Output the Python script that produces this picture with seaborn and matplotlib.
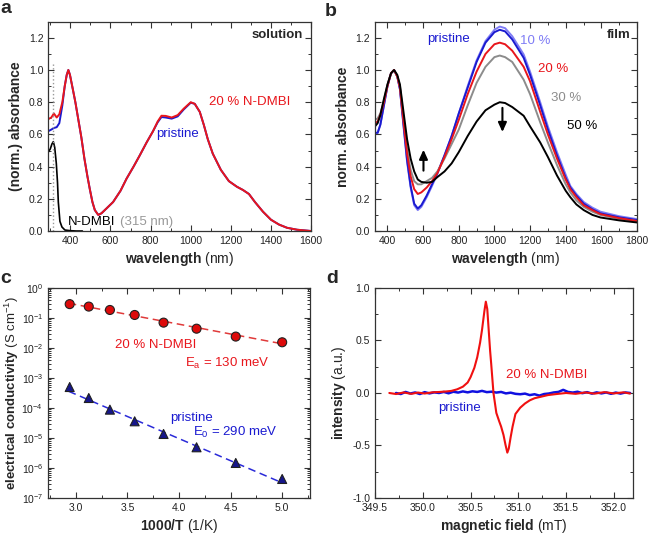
import numpy as np
import pandas as pd
import matplotlib
matplotlib.use("Agg")
import matplotlib.pyplot as plt
import seaborn as sns
from matplotlib.ticker import MultipleLocator, ScalarFormatter

# ---- panel a: solution absorbance ----
wl_a = [290, 305, 318, 332, 345, 360, 372, 382, 390, 398, 406, 414, 425, 440, 455, 470, 485,
        497, 510, 522, 539, 555, 580, 613, 650, 680, 715, 746, 780, 812, 835, 854, 875, 905,
        935, 965, 1000, 1020, 1045, 1065, 1085, 1110, 1150, 1190, 1230, 1260, 1290, 1320,
        1360, 1400, 1440, 1480, 1530, 1600]
abs_a_doped = [0.695, 0.705, 0.73, 0.705, 0.725, 0.80, 0.90, 0.97, 1.0, 0.97, 0.92, 0.87, 0.80,
               0.69, 0.58, 0.45, 0.34, 0.26, 0.18, 0.13, 0.10, 0.11, 0.14, 0.18, 0.25, 0.325,
               0.40, 0.47, 0.55, 0.62, 0.68, 0.716, 0.715, 0.705, 0.72, 0.76, 0.80, 0.79, 0.74,
               0.66, 0.57, 0.48, 0.38, 0.31, 0.275, 0.255, 0.23, 0.18, 0.12, 0.07, 0.04, 0.02,
               0.008, 0.0]
abs_a_pristine = [0.62, 0.63, 0.64, 0.645, 0.67, 0.78, 0.90, 0.97, 1.0, 0.97, 0.92, 0.87, 0.80,
                  0.69, 0.58, 0.45, 0.34, 0.26, 0.18, 0.13, 0.10, 0.11, 0.14, 0.18, 0.25, 0.325,
                  0.40, 0.47, 0.55, 0.62, 0.675, 0.708, 0.705, 0.698, 0.712, 0.755, 0.797, 0.79,
                  0.74, 0.66, 0.57, 0.48, 0.38, 0.31, 0.275, 0.255, 0.23, 0.18, 0.12, 0.07, 0.04,
                  0.02, 0.008, 0.0]
wl_ndmbi = [290, 300, 308, 315, 322, 330, 336, 340, 348, 358, 373, 400, 430, 460]
abs_ndmbi = [0.49, 0.51, 0.54, 0.555, 0.52, 0.42, 0.30, 0.18, 0.06, 0.025, 0.006, 0.002, 0.0, 0.0]
ndmbi_peak = 315

# ---- panel b: film absorbance ----
wl_b = [330, 345, 360, 380, 400, 420, 437, 455, 470, 490, 510, 530, 550, 570, 590, 620, 650,
        680, 720, 760, 800, 850, 900, 950, 1000, 1030, 1060, 1100, 1164, 1200, 1257, 1300,
        1351, 1400, 1426, 1460, 1501, 1550, 1595, 1700, 1800]
film = {
    "pristine": [0.61, 0.61, 0.66, 0.78, 0.90, 0.98, 1.0, 0.96, 0.88, 0.66, 0.44, 0.28, 0.17,
                 0.14, 0.16, 0.22, 0.29, 0.36, 0.47, 0.59, 0.73, 0.89, 1.05, 1.17, 1.235, 1.25,
                 1.24, 1.19, 1.076, 0.97, 0.78, 0.63, 0.47, 0.33, 0.27, 0.22, 0.17, 0.135, 0.11,
                 0.085, 0.068],
    "10 %": [0.61, 0.61, 0.66, 0.78, 0.90, 0.98, 1.0, 0.96, 0.88, 0.65, 0.43, 0.27, 0.16,
             0.13, 0.15, 0.21, 0.28, 0.355, 0.47, 0.59, 0.73, 0.90, 1.06, 1.18, 1.25, 1.27,
             1.26, 1.21, 1.097, 0.99, 0.80, 0.65, 0.49, 0.35, 0.28, 0.23, 0.18, 0.145, 0.12,
             0.092, 0.074],
    "20 %": [0.67, 0.68, 0.72, 0.80, 0.90, 0.98, 1.0, 0.96, 0.89, 0.68, 0.48, 0.34, 0.26,
             0.23, 0.24, 0.27, 0.31, 0.36, 0.46, 0.57, 0.69, 0.85, 0.99, 1.10, 1.16, 1.17,
             1.16, 1.12, 1.02, 0.93, 0.74, 0.60, 0.45, 0.32, 0.26, 0.21, 0.16, 0.13, 0.105,
             0.08, 0.062],
    "30 %": [0.69, 0.70, 0.73, 0.81, 0.91, 0.98, 1.0, 0.96, 0.90, 0.70, 0.51, 0.38, 0.31,
             0.29, 0.29, 0.31, 0.33, 0.37, 0.45, 0.54, 0.63, 0.78, 0.92, 1.02, 1.08, 1.09,
             1.08, 1.05, 0.94, 0.85, 0.675, 0.55, 0.41, 0.29, 0.24, 0.19, 0.15, 0.12, 0.10,
             0.075, 0.062],
    "50 %": [0.65, 0.67, 0.72, 0.82, 0.91, 0.98, 1.0, 0.97, 0.91, 0.74, 0.57, 0.45, 0.37,
             0.32, 0.305, 0.30, 0.305, 0.335, 0.37, 0.42, 0.49, 0.59, 0.68, 0.75, 0.785, 0.80,
             0.795, 0.77, 0.716, 0.65, 0.55, 0.46, 0.345, 0.25, 0.21, 0.165, 0.13, 0.10, 0.084,
             0.066, 0.053],
}
film_colors = {"pristine": "#1a1ad0", "10 %": "#7f7cf5", "20 %": "#e8161c",
               "30 %": "#8c8c8c", "50 %": "#000000"}
film_order = ["10 %", "pristine", "30 %", "20 %", "50 %"]

# ---- panel c: conductivity vs 1000/T ----
inv_T = [2.94, 3.125, 3.33, 3.57, 3.85, 4.17, 4.55, 5.0]
sigma_doped = [0.29, 0.24, 0.185, 0.126, 0.07, 0.044, 0.024, 0.0155]
sigma_pristine = [5.0e-4, 2.15e-4, 8.8e-5, 3.6e-5, 1.36e-5, 4.9e-6, 1.47e-6, 4.3e-7]
fit_x = [2.93, 5.0]
fit_doped = [0.31, 0.0138]
fit_pristine = [3.6e-4, 3.2e-7]

# ---- panel d: EPR ----
field_doped = [349.65, 349.72, 349.8, 349.88, 349.95, 350.02, 350.1, 350.18, 350.25, 350.3,
               350.36, 350.42, 350.47, 350.5, 350.54, 350.57, 350.6, 350.62, 350.645, 350.66,
               350.675, 350.69, 350.705, 350.716, 350.74, 350.77, 350.8, 350.82, 350.845,
               350.865, 350.885, 350.9, 350.92, 350.94, 350.97, 351.02, 351.07, 351.12,
               351.17, 351.24, 351.31, 351.4, 351.5, 351.6, 351.7, 351.8, 351.9, 352.0,
               352.1, 352.17]
epr_doped = [0.0, -0.01, 0.005, -0.008, 0.004, -0.005, 0.006, 0.01, 0.015, 0.02, 0.035, 0.06,
             0.1, 0.15, 0.24, 0.34, 0.48, 0.6, 0.78, 0.87, 0.8, 0.6, 0.4, 0.28, 0.0, -0.19,
             -0.27, -0.32, -0.4, -0.49, -0.568, -0.53, -0.42, -0.32, -0.2, -0.14, -0.1,
             -0.07, -0.05, -0.035, -0.02, -0.01, 0.0, -0.008, 0.005, -0.006, 0.008, -0.004,
             0.006, -0.005]
field_pristine = [349.72, 349.77, 349.82, 349.87, 349.92, 349.97, 350.02, 350.07, 350.12,
                  350.17, 350.22, 350.27, 350.32, 350.37, 350.42, 350.47, 350.52, 350.57,
                  350.62, 350.67, 350.72, 350.77, 350.82, 350.87, 350.92, 350.97, 351.02,
                  351.07, 351.12, 351.17, 351.22, 351.27, 351.32, 351.37, 351.42, 351.47,
                  351.52, 351.57, 351.62, 351.67, 351.72, 351.77, 351.82, 351.87, 351.92,
                  351.97, 352.02, 352.07, 352.12, 352.17]
epr_pristine = [0.0, -0.01, 0.01, -0.005, 0.005, -0.01, 0.008, -0.004, 0.006, 0.0, 0.01,
                -0.003, 0.012, 0.004, 0.015, 0.006, 0.016, 0.01, 0.02, 0.008, 0.012, 0.004,
                0.01, -0.004, 0.003, -0.008, -0.012, -0.006, -0.02, -0.012, -0.025, -0.01,
                -0.005, 0.005, 0.01, 0.03, 0.01, 0.004, 0.012, -0.002, 0.008, -0.006, 0.006,
                -0.004, 0.005, -0.008, 0.004, -0.006, 0.005, 0.0]

RED = "#e8161c"
BLUE = "#1a1ad0"

sns.set_style("ticks")
plt.rcParams["font.family"] = ["Liberation Sans", "DejaVu Sans"]
plt.rcParams.update({
    "mathtext.fontset": "custom",
    "mathtext.rm": "Liberation Sans",
    "mathtext.it": "Liberation Sans:italic",
    "mathtext.bf": "Liberation Sans:bold",
    "axes.unicode_minus": False,
    "axes.edgecolor": "#333333",
    "axes.linewidth": 0.9,
    "xtick.color": "#333333",
    "ytick.color": "#333333",
    "xtick.labelcolor": "#222222",
    "ytick.labelcolor": "#222222",
})

fig = plt.figure(figsize=(6.49, 5.35), dpi=100)
ax_a = fig.add_axes([0.0744, 0.5682, 0.405, 0.3912])
ax_b = fig.add_axes([0.5778, 0.5682, 0.4037, 0.3912])
ax_c = fig.add_axes([0.0740, 0.0692, 0.4037, 0.3925])
ax_d = fig.add_axes([0.5778, 0.0692, 0.3975, 0.3925])


def style_axis(ax):
    ax.tick_params(which="both", direction="in", top=True, right=True, labelsize=7.5)
    ax.tick_params(which="major", length=4, width=0.8)
    ax.tick_params(which="minor", length=2, width=0.7)


# a
sns.lineplot(x=wl_a, y=abs_a_pristine, ax=ax_a, color=BLUE, lw=1.4, estimator=None, sort=False)
sns.lineplot(x=wl_a, y=abs_a_doped, ax=ax_a, color=RED, lw=1.4, estimator=None, sort=False)
sns.lineplot(x=wl_ndmbi, y=abs_ndmbi, ax=ax_a, color="black", lw=1.2, estimator=None, sort=False)
ax_a.vlines(ndmbi_peak, 0, 1.05, colors="#999999", linestyles=":", lw=1.0)
ax_a.set_xlim(290, 1600)
ax_a.set_ylim(0, 1.3)
ax_a.xaxis.set_major_locator(MultipleLocator(200))
ax_a.xaxis.set_minor_locator(MultipleLocator(100))
ax_a.yaxis.set_major_locator(MultipleLocator(0.2))
ax_a.yaxis.set_minor_locator(MultipleLocator(0.1))
ax_a.set_xlabel(r"$\bf{wavelength}$ (nm)", fontsize=10, labelpad=3)
ax_a.set_ylabel("(norm.) absorbance", fontsize=10, fontweight="bold", labelpad=4)
ax_a.text(1560, 1.215, "solution", fontsize=9.5, fontweight="bold", ha="right", va="center")
ax_a.text(1293, 0.80, "20 % N-DMBI", fontsize=9.5, color=RED, ha="center", va="center")
ax_a.text(932, 0.605, "pristine", fontsize=9.5, color=BLUE, ha="center", va="center")
ax_a.text(389, 0.057, "N-DMBI", fontsize=9.5, color="black", ha="left", va="center")
ax_a.text(647, 0.057, "(315 nm)", fontsize=9.5, color="#999999", ha="left", va="center")
style_axis(ax_a)

# b
for name in film_order:
    sns.lineplot(x=wl_b, y=film[name], ax=ax_b, color=film_colors[name], lw=1.4,
                 estimator=None, sort=False)
ax_b.set_xlim(330, 1800)
ax_b.set_ylim(0, 1.3)
ax_b.xaxis.set_major_locator(MultipleLocator(200))
ax_b.xaxis.set_minor_locator(MultipleLocator(100))
ax_b.yaxis.set_major_locator(MultipleLocator(0.2))
ax_b.yaxis.set_minor_locator(MultipleLocator(0.1))
ax_b.set_xlabel(r"$\bf{wavelength}$ (nm)", fontsize=10, labelpad=3)
ax_b.set_ylabel("norm. absorbance", fontsize=10, fontweight="bold", labelpad=4)
ax_b.text(1763, 1.22, "film", fontsize=9.5, fontweight="bold", ha="right", va="center")
ax_b.text(742, 1.193, "pristine", fontsize=9.5, color=BLUE, ha="center", va="center")
ax_b.text(1229, 1.18, "10 %", fontsize=9.5, color=film_colors["10 %"], ha="center", va="center")
ax_b.text(1331, 1.004, "20 %", fontsize=9.5, color=RED, ha="center", va="center")
ax_b.text(1402, 0.825, "30 %", fontsize=9.5, color=film_colors["30 %"], ha="center", va="center")
ax_b.text(1492, 0.654, "50 %", fontsize=9.5, color="black", ha="center", va="center")
arrow = dict(arrowstyle="-|>,head_length=0.55,head_width=0.25", color="black", lw=1.5,
             shrinkA=0, shrinkB=0)
ax_b.annotate("", xy=(602, 0.505), xytext=(602, 0.375), arrowprops=arrow)
ax_b.annotate("", xy=(1045, 0.615), xytext=(1045, 0.765), arrowprops=arrow)
style_axis(ax_b)

# c
cond = pd.DataFrame({"x": inv_T * 2, "y": sigma_doped + sigma_pristine,
                     "sample": ["20 % N-DMBI"] * len(inv_T) + ["pristine"] * len(inv_T)})
sns.lineplot(x=fit_x, y=fit_doped, ax=ax_c, color="#e03a3a", lw=1.1, ls=(0, (5, 3)),
             estimator=None, sort=False)
sns.lineplot(x=fit_x, y=fit_pristine, ax=ax_c, color="#2a2ad8", lw=1.1, ls=(0, (5, 3)),
             estimator=None, sort=False)
sns.scatterplot(data=cond, x="x", y="y", hue="sample", style="sample",
                palette={"20 % N-DMBI": "#dd0a0a", "pristine": "#16168a"},
                markers={"20 % N-DMBI": "o", "pristine": "^"},
                s=42, edgecolor="#202020", linewidth=0.8, ax=ax_c, legend=False, zorder=3)
ax_c.set_yscale("log")
ax_c.set_xlim(2.73, 5.27)
ax_c.set_ylim(1e-7, 1)
ax_c.xaxis.set_major_locator(MultipleLocator(0.5))
ax_c.xaxis.set_minor_locator(MultipleLocator(0.25))
ax_c.text(3.77, 0.0129, "20 % N-DMBI", fontsize=9.5, color=RED, ha="center", va="center")
ax_c.text(4.465, 3.16e-3, r"E$_\mathregular{a}$ = 130 meV", fontsize=9.5, color=RED,
          ha="center", va="center")
ax_c.text(4.12, 4.7e-5, "pristine", fontsize=9.5, color=BLUE, ha="center", va="center")
ax_c.text(4.546, 1.48e-5, r"E$_\mathregular{0}$ = 290 meV", fontsize=9.5, color=BLUE,
          ha="center", va="center")
style_axis(ax_c)
ax_c.set_xlabel(r"$\bf{1000/T}$ (1/K)", fontsize=10, labelpad=3)
ax_c.set_ylabel(r"$\bf{electrical\ conductivity}$ (S cm$^{-1}$)", fontsize=9.5)
ax_c.yaxis.set_label_coords(-0.105, 0.5)

# d
sns.lineplot(x=field_pristine, y=epr_pristine, ax=ax_d, color="#1010e0", lw=1.8,
             estimator=None, sort=False)
sns.lineplot(x=field_doped, y=epr_doped, ax=ax_d, color="#f01010", lw=1.5,
             estimator=None, sort=False)
ax_d.set_xlim(349.5, 352.2)
ax_d.set_ylim(-1, 1)
ax_d.xaxis.set_major_locator(MultipleLocator(0.5))
ax_d.xaxis.set_minor_locator(MultipleLocator(0.25))
ax_d.yaxis.set_major_locator(MultipleLocator(0.5))
ax_d.yaxis.set_minor_locator(MultipleLocator(0.25))
fmt = ScalarFormatter(useOffset=False)
ax_d.xaxis.set_major_formatter(fmt)
ax_d.set_xlabel(r"$\bf{magnetic\ field}$ (mT)", fontsize=10, labelpad=3)
ax_d.set_ylabel(r"$\bf{intensity}$ (a.u.)", fontsize=10, labelpad=3)
ax_d.text(351.3, 0.169, "20 % N-DMBI", fontsize=9.5, color=RED, ha="center", va="center")
ax_d.text(350.38, -0.147, "pristine", fontsize=9.5, color=BLUE, ha="center", va="center")
style_axis(ax_d)

# panel letters
for letter, (px, py) in {"a": (0.0, 1.0), "b": (0.5008, 0.994),
                         "c": (0.0, 0.4953), "d": (0.5023, 0.4953)}.items():
    fig.text(px, py, letter, fontsize=14, fontweight="bold", ha="left", va="top")

fig.savefig("out.png", dpi=100)
